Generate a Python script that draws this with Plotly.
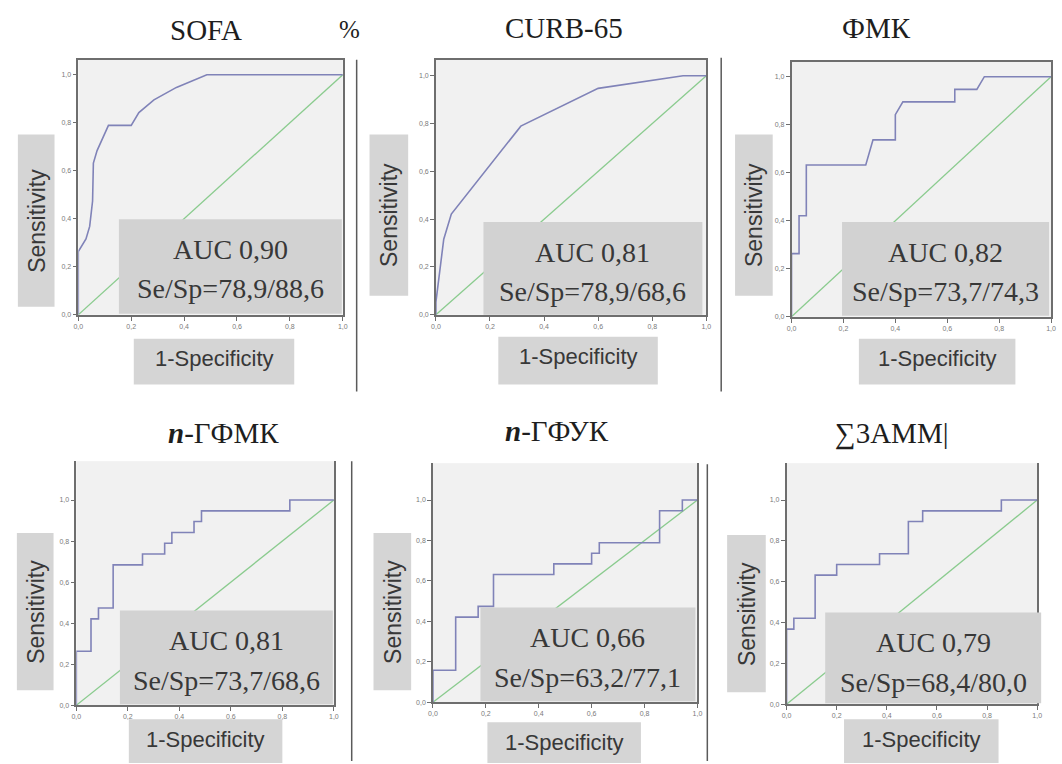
import plotly.graph_objects as go

W, H = 1062, 764

# ---------------- data ----------------
titles = ["SOFA", "CURB-65", "ФМК", "<b><i>n</i></b>-ГФМК", "<b><i>n</i></b>-ГФУК", "∑3АММ|"]
auc_labels = ["AUC 0,90", "AUC 0,81", "AUC 0,82", "AUC 0,81", "AUC 0,66", "AUC 0,79"]
sesp_labels = ["Se/Sp=78,9/88,6", "Se/Sp=78,9/68,6", "Se/Sp=73,7/74,3",
               "Se/Sp=73,7/68,6", "Se/Sp=63,2/77,1", "Se/Sp=68,4/80,0"]
y_title = "Sensitivity"
x_title = "1-Specificity"

sofa_fpr = [0.0, 0.0, 0.029, 0.043, 0.054, 0.057, 0.071, 0.114, 0.200, 0.229, 0.286, 0.371, 0.486, 1.0]
sofa_tpr = [0.0, 0.263, 0.316, 0.368, 0.474, 0.632, 0.684, 0.789, 0.789, 0.842, 0.895, 0.947, 1.0, 1.0]

curb_fpr = [0.0, 0.0, 0.029, 0.057, 0.314, 0.600, 0.914, 1.0]
curb_tpr = [0.0, 0.053, 0.316, 0.421, 0.789, 0.947, 1.0, 1.0]

fmk_fpr = [0.0, 0.0, 0.029, 0.029, 0.057, 0.057, 0.286, 0.314, 0.400, 0.400, 0.429, 0.629, 0.629, 0.714, 0.743, 1.0]
fmk_tpr = [0.0, 0.263, 0.263, 0.421, 0.421, 0.632, 0.632, 0.737, 0.737, 0.842, 0.895, 0.895, 0.947, 0.947, 1.0, 1.0]

ngfmk_fpr = [0.0, 0.0, 0.057, 0.057, 0.086, 0.086, 0.143, 0.143, 0.257, 0.257, 0.343, 0.343,
             0.371, 0.371, 0.457, 0.457, 0.486, 0.486, 0.829, 0.829, 1.0]
ngfmk_tpr = [0.0, 0.263, 0.263, 0.421, 0.421, 0.474, 0.474, 0.684, 0.684, 0.737, 0.737, 0.789,
             0.789, 0.842, 0.842, 0.895, 0.895, 0.947, 0.947, 1.0, 1.0]

ngfuk_fpr = [0.0, 0.0, 0.086, 0.086, 0.171, 0.171, 0.229, 0.229, 0.457, 0.457, 0.600, 0.600,
             0.629, 0.629, 0.857, 0.857, 0.943, 0.943, 1.0]
ngfuk_tpr = [0.0, 0.158, 0.158, 0.421, 0.421, 0.474, 0.474, 0.632, 0.632, 0.684, 0.684, 0.737,
             0.737, 0.789, 0.789, 0.947, 0.947, 1.0, 1.0]

sum_fpr = [0.0, 0.0, 0.029, 0.029, 0.114, 0.114, 0.200, 0.200, 0.371, 0.371, 0.486, 0.486,
           0.543, 0.543, 0.857, 0.857, 1.0]
sum_tpr = [0.0, 0.368, 0.368, 0.421, 0.421, 0.632, 0.632, 0.684, 0.684, 0.737, 0.737, 0.895,
           0.895, 0.947, 0.947, 1.0, 1.0]

ref_x = [0.0, 1.0]
ref_y = [0.0, 1.0]

tick_vals = [0.0, 0.2, 0.4, 0.6, 0.8, 1.0]
tick_text = ["0,0", "0,2", "0,4", "0,6", "0,8", "1,0"]

fprs = [sofa_fpr, curb_fpr, fmk_fpr, ngfmk_fpr, ngfuk_fpr, sum_fpr]
tprs = [sofa_tpr, curb_tpr, fmk_tpr, ngfmk_tpr, ngfuk_tpr, sum_tpr]

# ---------------- layout (pixel geometry) ----------------
# xl/xr: x=0 / x=1 ; yb: y=0 ; y1: y=1.0 ; top: frame top
PANELS = [
    dict(xl=74, xr=341, yb=316, y1=75, top=60, row=0,
         title=(203, 30), sens=(13, 50, 135, 308), spec=(130, 292, 340, 386), auc=(115, 340, 220, 315)),
    dict(xl=435, xr=708, yb=316, y1=76, top=60, row=0,
         title=(564, 28), sens=(368, 407, 135, 297), spec=(498, 659, 338, 386), auc=(483, 704, 223, 316)),
    dict(xl=794, xr=1056, yb=318, y1=77, top=62, row=0,
         title=(880, 28), sens=(737, 775, 135, 297), spec=(862, 1020, 340, 386), auc=(845, 1054, 223, 317)),
    dict(xl=72, xr=332, yb=708, y1=502, top=463, row=1,
         title=(221, 435), sens=(12, 49, 535, 693), spec=(125, 280, 722, 766), auc=(116, 331, 613, 707)),
    dict(xl=432, xr=699, yb=705, y1=502, top=465, row=1,
         title=(557, 433), sens=(372, 410, 535, 693), spec=(487, 642, 725, 766), auc=(480, 697, 610, 704)),
    dict(xl=789, xr=1042, yb=707, y1=502, top=465, row=1,
         title=(895, 435), sens=(729, 768, 537, 695), spec=(847, 1003, 722, 766), auc=(828, 1046, 615, 706)),
]

SEPARATORS = [(355, 60, 393), (723, 58, 393), (350, 463, 764), (709, 466, 764)]

BG = "#F1F1F1"
BOX = "#D5D5D5"
AUCBOX = "#D2D2D2"
CURVE = "#8083B8"
DIAG = "#8ACB8E"
FRAME = "#6E6E6E"
TXT = "#383838"
SERIF = "Liberation Serif, Times New Roman, serif"
SANS = "Liberation Sans, Arial, sans-serif"


def px(x):
    return x / W


def py(y):
    return 1 - y / H


fig = go.Figure()
shapes = []
annotations = []

for i, p in enumerate(PANELS):
    ax = "" if i == 0 else str(i + 1)
    fig.add_trace(go.Scatter(x=ref_x, y=ref_y, mode="lines", line=dict(color=DIAG, width=1.3),
                             xaxis="x" + ax, yaxis="y" + ax, hoverinfo="skip", showlegend=False))
    fig.add_trace(go.Scatter(x=fprs[i], y=tprs[i], mode="lines", line=dict(color=CURVE, width=1.6),
                             xaxis="x" + ax, yaxis="y" + ax, hoverinfo="skip", showlegend=False))
    ymax = (p["yb"] - p["top"]) / (p["yb"] - p["y1"])
    common = dict(showgrid=False, zeroline=False, showline=True, linecolor=FRAME, linewidth=1.5,
                  ticks="outside", ticklen=4, tickcolor=FRAME, tickwidth=1,
                  tickvals=tick_vals, ticktext=tick_text,
                  tickfont=dict(family=SANS, size=7, color="#7A7A7A"), fixedrange=True)
    fig.layout["xaxis" + ax] = dict(domain=[px(p["xl"]), px(p["xr"])], range=[0, 1],
                                    anchor="y" + ax, mirror=(p["row"] == 0), **common)
    fig.layout["yaxis" + ax] = dict(domain=[py(p["yb"]), py(p["top"])], range=[0, ymax],
                                    anchor="x" + ax, mirror=True, **common)

    # panel title
    annotations.append(dict(text=titles[i], x=px(p["title"][0]), y=py(p["title"][1]),
                            xref="paper", yref="paper", showarrow=False,
                            xanchor="center", yanchor="middle",
                            font=dict(family=SERIF, size=29, color="#1E1E1E")))
    # Sensitivity box
    x0, x1, y0, y1 = p["sens"]
    shapes.append(dict(type="rect", xref="paper", yref="paper", x0=px(x0), x1=px(x1), y0=py(y1), y1=py(y0),
                       fillcolor=BOX, line=dict(width=0), layer="above"))
    annotations.append(dict(text=y_title, x=px((x0 + x1) / 2), y=py((y0 + y1) / 2), textangle=-90,
                            xref="paper", yref="paper", showarrow=False, xanchor="center", yanchor="middle",
                            font=dict(family=SANS, size=23, color=TXT)))
    # 1-Specificity box
    x0, x1, y0, y1 = p["spec"]
    shapes.append(dict(type="rect", xref="paper", yref="paper", x0=px(x0), x1=px(x1), y0=py(y1), y1=py(y0),
                       fillcolor=BOX, line=dict(width=0), layer="above"))
    annotations.append(dict(text=x_title, x=px((x0 + x1) / 2), y=py(y0 + 20), xref="paper", yref="paper",
                            showarrow=False, xanchor="center", yanchor="middle",
                            font=dict(family=SANS, size=22, color=TXT)))
    # AUC box
    x0, x1, y0, y1 = p["auc"]
    shapes.append(dict(type="rect", xref="paper", yref="paper", x0=px(x0), x1=px(x1), y0=py(y1), y1=py(y0),
                       fillcolor=AUCBOX, line=dict(width=0), layer="above"))
    annotations.append(dict(text=auc_labels[i], x=px((x0 + x1) / 2), y=py(y0 + 30), xref="paper", yref="paper",
                            showarrow=False, xanchor="center", yanchor="middle",
                            font=dict(family=SERIF, size=28, color=TXT)))
    annotations.append(dict(text=sesp_labels[i], x=px((x0 + x1) / 2), y=py(y0 + 70), xref="paper", yref="paper",
                            showarrow=False, xanchor="center", yanchor="middle",
                            font=dict(family=SERIF, size=28, color=TXT)))

# stray "%" sign in the header
annotations.append(dict(text="%", x=px(348), y=py(30), xref="paper", yref="paper", showarrow=False,
                        xanchor="center", yanchor="middle", font=dict(family=SERIF, size=25, color="#1E1E1E")))

for sx, sy0, sy1 in SEPARATORS:
    shapes.append(dict(type="line", xref="paper", yref="paper", x0=px(sx), x1=px(sx), y0=py(sy0), y1=py(sy1),
                       line=dict(color="#5A5A5A", width=1.5), layer="above"))

fig.update_layout(width=W, height=H, margin=dict(l=0, r=0, t=0, b=0),
                  paper_bgcolor="white", plot_bgcolor=BG, showlegend=False,
                  shapes=shapes, annotations=annotations)

fig.write_html("out.html", config={"displayModeBar": False},
               post_script="document.body.style.margin='0px';document.body.style.overflow='hidden';")
